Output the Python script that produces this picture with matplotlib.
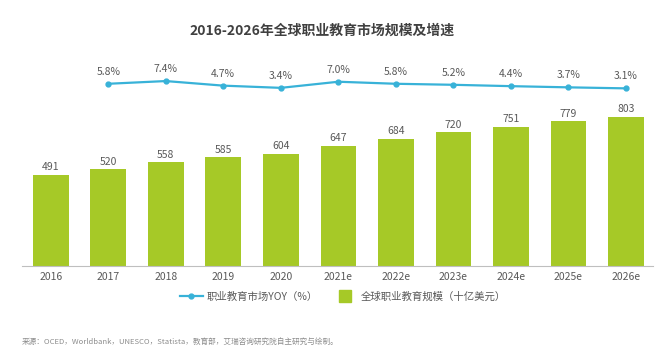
import matplotlib.pyplot as plt
from matplotlib.lines import Line2D
import numpy as np

plt.rcParams['font.family'] = ['Noto Sans CJK SC', 'DejaVu Sans']

# ----- Data -----
years = ['2016', '2017', '2018', '2019', '2020', '2021e', '2022e',
         '2023e', '2024e', '2025e', '2026e']
market_size = [491, 520, 558, 585, 604, 647, 684, 720, 751, 779, 803]
yoy_years = years[1:]
yoy = [5.8, 7.4, 4.7, 3.4, 7.0, 5.8, 5.2, 4.4, 3.7, 3.1]

bar_color = '#A6C927'
line_color = '#38B2D8'
text_color = '#595959'

fig = plt.figure(figsize=(6.7, 3.57), dpi=100)
ax = fig.add_axes([0.0328, 0.2549, 0.9418, 0.549])

x = np.arange(len(years))
bars = ax.bar(x, market_size, width=0.62, color=bar_color)
for xi, v in zip(x, market_size):
    ax.annotate(f'{v}', (xi, v), xytext=(0, 2), textcoords='offset points',
                ha='center', va='bottom', fontsize=7.5, color=text_color)

ax.set_xlim(-0.5, 10.47)
ax.set_ylim(0, 1056)
ax.set_xticks(x)
ax.set_xticklabels(years, fontsize=7.5, color=text_color)
ax.tick_params(axis='x', length=0, pad=4)
ax.set_yticks([])
for s in ['top', 'right', 'left']:
    ax.spines[s].set_visible(False)
ax.spines['bottom'].set_color('#BFBFBF')

# secondary axis for growth rate
ax2 = ax.twinx()
xl = x[1:]
line, = ax2.plot(xl, yoy, color=line_color, lw=1.6, marker='o',
                 markersize=3.5)
for xi, v in zip(xl, yoy):
    ax2.annotate(f'{v:.1f}%', (xi, v), xytext=(0, 5), textcoords='offset points',
                 ha='center', va='bottom', fontsize=7.5, color=text_color)
ax2.set_ylim(-101.4, 13.9)
ax2.set_yticks([])
for s in ax2.spines.values():
    s.set_visible(False)

fig.text(0.481, 0.913, '2016-2026年全球职业教育市场规模及增速',
         ha='center', va='center', fontsize=10, fontweight='bold', color='#404040')

# square legend key for the bars
bar_key = Line2D([], [], marker='s', linestyle='none', color=bar_color,
                 markersize=8)
fig.legend([line, bar_key], ['职业教育市场YOY（%）', '全球职业教育规模（十亿美元）'],
           loc='center', bbox_to_anchor=(0.512, 0.168), ncol=2, frameon=False,
           fontsize=7.5, labelcolor=text_color, handlelength=2.2,
           columnspacing=1.5, handletextpad=0.4)

fig.text(0.033, 0.042, '来源：OCED，Worldbank，UNESCO，Statista，教育部，艾瑞咨询研究院自主研究与绘制。',
         ha='left', va='center', fontsize=5.5, color='#8C8C8C')

fig.savefig('out.png', dpi=100)
